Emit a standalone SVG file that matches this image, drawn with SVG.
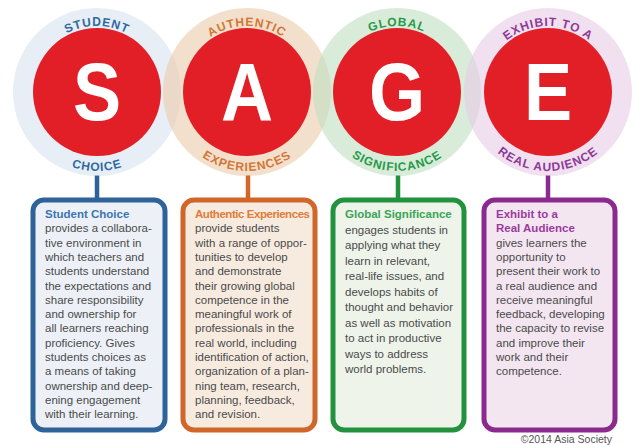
<svg xmlns="http://www.w3.org/2000/svg" width="640" height="445" viewBox="0 0 640 445">
<style>
.ring{fill-opacity:0.6}
.red{fill:#e21f26}
.big{font-family:"Liberation Sans",Arial,sans-serif;font-weight:bold;font-size:82px;fill:#ffffff;text-anchor:middle}
.arc{font-family:"Liberation Sans",Arial,sans-serif;font-weight:bold;font-size:12px;letter-spacing:0.9px}
.box{stroke-width:5}
.body{font-family:"Liberation Sans",Arial,sans-serif;font-size:11.5px;fill:#4a4a4a}
.ttl{font-weight:bold}
.con{stroke-width:4.5;fill:none}
.copy{font-family:"Liberation Sans",Arial,sans-serif;font-size:10.5px;fill:#555555;text-anchor:end}
</style>
<defs>
<path id="tS" d="M31,92 A66,66 0 0 1 163,92"/>
<path id="bS" d="M18,92 A79,79 0 0 0 176,92"/>
<path id="tA" d="M181,92 A66,66 0 0 1 313,92"/>
<path id="bA" d="M168,92 A79,79 0 0 0 326,92"/>
<path id="tG" d="M331,92 A66,66 0 0 1 463,92"/>
<path id="bG" d="M318,92 A79,79 0 0 0 476,92"/>
<path id="tE" d="M482,92 A66,66 0 0 1 614,92"/>
<path id="bE" d="M469,92 A79,79 0 0 0 627,92"/>
</defs>

<g id="connectors">
<line class="con" x1="97" y1="175" x2="97" y2="199" stroke="#2d6399"/>
<line class="con" x1="248" y1="175" x2="248" y2="199" stroke="#d0662a"/>
<line class="con" x1="398" y1="175" x2="398" y2="199" stroke="#23923f"/>
<line class="con" x1="548" y1="175" x2="548" y2="199" stroke="#8b2a8e"/>
</g>

<g id="circle-student-choice">
<circle class="ring" cx="97" cy="92" r="84" fill="#d9e3ee"/>
<circle class="red" cx="97" cy="92" r="64"/>
<text class="big" transform="translate(97 120) scale(0.88 1)">S</text>
<text class="arc" fill="#2e6aa3"><textPath href="#tS" startOffset="50%" text-anchor="middle">STUDENT</textPath></text>
<text class="arc" fill="#2e6aa3"><textPath href="#bS" startOffset="50%" text-anchor="middle">CHOICE</textPath></text>
</g>

<g id="circle-authentic-experiences">
<circle class="ring" cx="247" cy="92" r="84" fill="#ebcbaa"/>
<circle class="red" cx="247" cy="92" r="64"/>
<text class="big" transform="translate(247 120) scale(0.88 1)">A</text>
<text class="arc" fill="#d47636"><textPath href="#tA" startOffset="50%" text-anchor="middle">AUTHENTIC</textPath></text>
<text class="arc" fill="#d47636"><textPath href="#bA" startOffset="50%" text-anchor="middle">EXPERIENCES</textPath></text>
</g>

<g id="circle-global-significance">
<circle class="ring" cx="397" cy="92" r="84" fill="#c0dfc0"/>
<circle class="red" cx="397" cy="92" r="64"/>
<text class="big" transform="translate(397 120) scale(0.88 1)">G</text>
<text class="arc" fill="#279a4a"><textPath href="#tG" startOffset="50%" text-anchor="middle">GLOBAL</textPath></text>
<text class="arc" fill="#279a4a"><textPath href="#bG" startOffset="50%" text-anchor="middle">SIGNIFICANCE</textPath></text>
</g>

<g id="circle-exhibit">
<circle class="ring" cx="548" cy="92" r="84" fill="#e6cbe6"/>
<circle class="red" cx="548" cy="92" r="64"/>
<text class="big" transform="translate(548 120) scale(0.88 1)">E</text>
<text class="arc" fill="#8e3a96"><textPath href="#tE" startOffset="50%" text-anchor="middle">EXHIBIT TO A</textPath></text>
<text class="arc" fill="#8e3a96"><textPath href="#bE" startOffset="50%" text-anchor="middle">REAL AUDIENCE</textPath></text>
</g>

<g id="box-student-choice">
<rect class="box" x="33" y="200" width="132" height="230" rx="11" fill="#edf1f7" stroke="#2d6399"/>
<text class="body" x="45">
<tspan x="45" y="218" class="ttl" fill="#3a75b2">Student Choice</tspan>
<tspan x="45" dy="14.3">provides a collabora-</tspan>
<tspan x="45" dy="14.3">tive environment in</tspan>
<tspan x="45" dy="14.3">which teachers and</tspan>
<tspan x="45" dy="14.3">students understand</tspan>
<tspan x="45" dy="14.3">the expectations and</tspan>
<tspan x="45" dy="14.3">share responsibility</tspan>
<tspan x="45" dy="14.3">and ownership for</tspan>
<tspan x="45" dy="14.3">all learners reaching</tspan>
<tspan x="45" dy="14.3">proficiency. Gives</tspan>
<tspan x="45" dy="14.3">students choices as</tspan>
<tspan x="45" dy="14.3">a means of taking</tspan>
<tspan x="45" dy="14.3">ownership and deep-</tspan>
<tspan x="45" dy="14.3">ening engagement</tspan>
<tspan x="45" dy="14.3">with their learning.</tspan>
</text>
</g>

<g id="box-authentic-experiences">
<rect class="box" x="183" y="200" width="132" height="230" rx="11" fill="#f7ebe0" stroke="#d0662a"/>
<text class="body" x="195">
<tspan x="195" y="218" class="ttl" fill="#e07b39" style="letter-spacing:-0.45px">Authentic Experiences</tspan>
<tspan x="195" dy="14.3">provide students</tspan>
<tspan x="195" dy="14.3">with a range of oppor-</tspan>
<tspan x="195" dy="14.3">tunities to develop</tspan>
<tspan x="195" dy="14.3">and demonstrate</tspan>
<tspan x="195" dy="14.3">their growing global</tspan>
<tspan x="195" dy="14.3">competence in the</tspan>
<tspan x="195" dy="14.3">meaningful work of</tspan>
<tspan x="195" dy="14.3">professionals in the</tspan>
<tspan x="195" dy="14.3">real world, including</tspan>
<tspan x="195" dy="14.3">identification of action,</tspan>
<tspan x="195" dy="14.3">organization of a plan-</tspan>
<tspan x="195" dy="14.3">ning team, research,</tspan>
<tspan x="195" dy="14.3">planning, feedback,</tspan>
<tspan x="195" dy="14.3">and revision.</tspan>
</text>
</g>

<g id="box-global-significance">
<rect class="box" x="333" y="200" width="131" height="230" rx="11" fill="#eef4ea" stroke="#23923f"/>
<text class="body" x="345">
<tspan x="345" y="218" class="ttl" fill="#3aa556">Global Significance</tspan>
<tspan x="345" dy="15.5">engages students in</tspan>
<tspan x="345" dy="15.5">applying what they</tspan>
<tspan x="345" dy="15.5">learn in relevant,</tspan>
<tspan x="345" dy="15.5">real-life issues, and</tspan>
<tspan x="345" dy="15.5">develops habits of</tspan>
<tspan x="345" dy="15.5">thought and behavior</tspan>
<tspan x="345" dy="15.5">as well as motivation</tspan>
<tspan x="345" dy="15.5">to act in productive</tspan>
<tspan x="345" dy="15.5">ways to address</tspan>
<tspan x="345" dy="15.5">world problems.</tspan>
</text>
</g>

<g id="box-exhibit">
<rect class="box" x="484" y="200" width="131" height="230" rx="11" fill="#f3e6f1" stroke="#8b2a8e"/>
<text class="body" x="496">
<tspan x="496" y="218" class="ttl" fill="#9b3a9e">Exhibit to a</tspan>
<tspan x="496" dy="14.3" class="ttl" fill="#9b3a9e">Real Audience</tspan>
<tspan x="496" dy="14.3">gives learners the</tspan>
<tspan x="496" dy="14.3">opportunity to</tspan>
<tspan x="496" dy="14.3">present their work to</tspan>
<tspan x="496" dy="14.3">a real audience and</tspan>
<tspan x="496" dy="14.3">receive meaningful</tspan>
<tspan x="496" dy="14.3">feedback, developing</tspan>
<tspan x="496" dy="14.3">the capacity to revise</tspan>
<tspan x="496" dy="14.3">and improve their</tspan>
<tspan x="496" dy="14.3">work and their</tspan>
<tspan x="496" dy="14.3">competence.</tspan>
</text>
</g>

<text class="copy" x="612" y="443">©2014 Asia Society</text>
</svg>
